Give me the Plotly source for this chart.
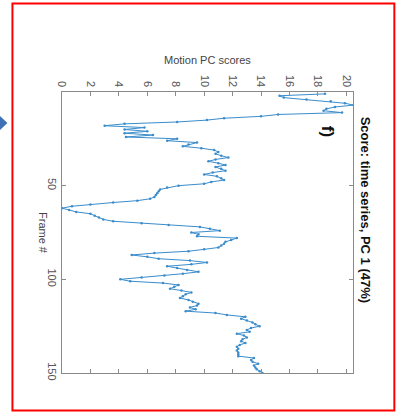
import plotly.graph_objects as go

# Data: PC 1 score per frame (frames 1..150)
frames = list(range(1, 151))
scores = [
    18.5, 15.3, 15.6, 17.2, 18.9, 19.9, 20.5, 19.2, 18.6, 18.4,
    19.7, 15.2, 14.0, 11.4, 10.2, 8.1, 4.4, 3.0, 5.8, 4.4,
    6.0, 4.4, 6.4, 4.5, 8.1, 7.4, 9.5, 8.9, 8.5, 9.8,
    10.7, 11.0, 10.8, 11.2, 11.7, 10.8, 10.3, 11.0, 11.5, 10.8,
    11.2, 11.5, 10.6, 10.0, 10.9, 11.2, 11.4, 10.5, 10.0, 8.2,
    7.4, 6.9, 6.8, 6.7, 6.6, 6.5, 6.2, 5.3, 3.6, 2.0,
    0.7, 0.0, 0.5, 1.0, 2.0, 2.3, 2.6, 2.9, 3.6, 5.6,
    7.5, 9.7, 10.4, 11.1, 9.1, 9.6, 9.5, 12.3, 11.9, 11.5,
    11.4, 11.2, 11.0, 10.0, 8.9, 6.5, 4.9, 6.0, 6.8, 9.0,
    10.2, 9.1, 7.4, 8.1, 8.8, 9.6, 8.5, 7.2, 5.6, 4.1,
    4.8, 7.1, 8.2, 7.9, 7.6, 8.4, 9.1, 8.7, 8.5, 8.3,
    8.9, 9.2, 9.6, 9.5, 9.0, 9.4, 8.7, 10.8, 11.6, 12.9,
    12.6, 13.0, 13.4, 13.6, 13.9, 13.3, 13.0, 13.2, 12.3, 12.8,
    13.0, 12.7, 12.6, 12.9, 12.5, 12.3, 12.4, 12.3, 12.4, 12.4,
    12.4, 13.5, 13.3, 13.4, 13.8, 13.5, 13.6, 13.7, 13.9, 14.1,
]
score_ticks = [0, 2, 4, 6, 8, 10, 12, 14, 16, 18, 20]
frame_ticks = [50, 100, 150]

W, H = 398, 418
L, R, T, B = 62, 352.7, 92, 373

def px(x):
    return (x - L) / (R - L)

def py(y):
    return (B - y) / (B - T)

line_col = "#3a8ccb"
axis_col = "#8a8a8a"
tick_font = dict(family="Liberation Sans, Arial, sans-serif", size=11, color="#555555")

fig = go.Figure()
fig.add_trace(go.Scatter(
    x=scores, y=frames, mode="lines+markers",
    line=dict(color=line_col, width=1),
    marker=dict(color=line_col, size=2.5),
    showlegend=False, hoverinfo="skip",
))

fig.update_layout(
    width=W, height=H,
    margin=dict(l=L, r=W - R, t=T, b=H - B),
    paper_bgcolor="white", plot_bgcolor="white",
    xaxis=dict(
        side="top", range=[0, 20.47], tickvals=score_ticks,
        ticktext=[str(v) for v in score_ticks], tickangle=90,
        ticks="inside", ticklen=4, tickcolor=axis_col,
        showline=True, linecolor=axis_col, linewidth=1, mirror="ticks",
        showgrid=False, zeroline=False, tickfont=tick_font,
    ),
    yaxis=dict(
        range=[150, 0], tickvals=frame_ticks,
        ticktext=[str(v) for v in frame_ticks], tickangle=90,
        ticks="inside", ticklen=4, tickcolor=axis_col,
        showline=True, linecolor=axis_col, linewidth=1, mirror="ticks",
        showgrid=False, zeroline=False, tickfont=tick_font,
    ),
    shapes=[
        dict(type="rect", xref="paper", yref="paper",
             x0=px(12.5), x1=px(394), y0=py(410.5), y1=py(3.5),
             line=dict(color="#ff0000", width=2), fillcolor="rgba(0,0,0,0)", layer="above"),
        dict(type="path", xref="paper", yref="paper",
             path=f"M {px(0)} {py(116)} L {px(7.5)} {py(123)} L {px(0)} {py(130)} Z",
             fillcolor="#3f72b5", line=dict(color="#3f72b5", width=0)),
    ],
    annotations=[
        dict(text="Motion PC scores", xref="paper", yref="paper",
             x=px(207), y=py(60), showarrow=False, xanchor="center", yanchor="middle",
             font=dict(family="Liberation Sans, Arial, sans-serif", size=11, color="#444444")),
        dict(text="Frame #", xref="paper", yref="paper",
             x=px(43), y=py(233), showarrow=False, textangle=90,
             xanchor="center", yanchor="middle",
             font=dict(family="Liberation Sans, Arial, sans-serif", size=11, color="#444444")),
        dict(text="<b>Score: time series, PC 1 (47%)</b>", xref="paper", yref="paper",
             x=px(366), y=py(210), showarrow=False, textangle=90,
             xanchor="center", yanchor="middle",
             font=dict(family="Liberation Sans, Arial, sans-serif", size=13, color="#111111")),
        dict(text="<b>f)</b>", xref="paper", yref="paper",
             x=px(328), y=py(131), showarrow=False, textangle=90,
             xanchor="center", yanchor="middle",
             font=dict(family="Liberation Sans, Arial, sans-serif", size=17, color="#111111")),
    ],
)

fig.write_html("out.html")
